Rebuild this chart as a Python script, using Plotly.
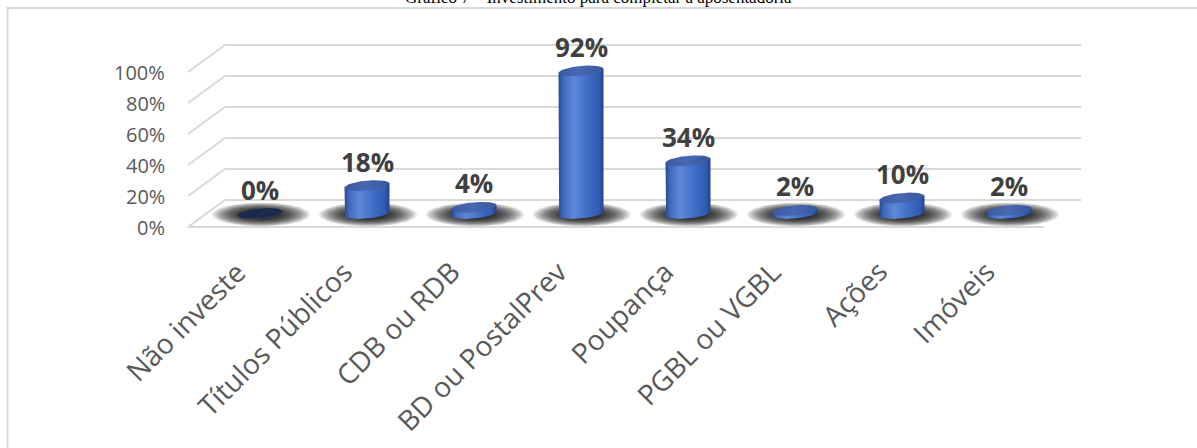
import numpy as np
import plotly.graph_objects as go

# ---------------- data ----------------
title_text = "Gráfico 7 – Investimento para completar a aposentadoria"
categories = ["Não investe", "Títulos Públicos", "CDB ou RDB", "BD ou PostalPrev",
              "Poupança", "PGBL ou VGBL", "Ações", "Imóveis"]
values = [0, 18, 4, 92, 34, 2, 10, 2]
y_ticks = [0, 20, 40, 60, 80, 100]
y_tick_labels = ["0%", "20%", "40%", "60%", "80%", "100%"]

# ---------------- geometry (pixel calibration of the pseudo-3D frame) ----------------
W, H = 1197, 448
X0PIX, XSTEP = 260.0, 107.0      # pixel of first category, pixels per category
Y0PIX, YSCALE = 213.5, 1.55      # pixel of value 0 (bar plane), pixels per percent


def lx(p):
    return p / XSTEP


def ly(p):
    return p / YSCALE


x_range = [(0 - X0PIX) / XSTEP, (W - X0PIX) / XSTEP]
y_range = [(Y0PIX - H) / YSCALE, Y0PIX / YSCALE]

A = lx(22.5)   # cylinder half width
B = ly(5.0)    # ellipse half height
T = ly(2.0)    # ellipse tilt
D = lx(18.5)   # depth offset x
DY = ly(13.5)  # depth offset y
n = len(categories)

GRID = "#D9D9D9"
fig = go.Figure()

# gridlines: back wall + left wall diagonals + floor front edge
gx, gy = [], []
for g in y_ticks:
    gx += [-0.5 + D, n - 0.5 + D, None, -0.5 - D, -0.5 + D, None]
    gy += [g + DY, g + DY, None, g - DY, g + DY, None]
gx += [-0.5 - D, n - 0.5 - D, None]
gy += [y_ticks[0] - DY, y_ticks[0] - DY, None]
fig.add_trace(go.Scatter(x=gx, y=gy, mode="lines", line=dict(color=GRID, width=2),
                         hoverinfo="skip"))

# soft shadows on the floor (stacked translucent ellipses)
th = np.linspace(0, 2 * np.pi, 72)
levels = 16
for k in range(levels):
    s = 1.0 - k * 0.042
    sx, sy = [], []
    for i in range(n):
        xc = i + lx(1)
        sx += list(xc + lx(49) * s * np.cos(th)) + [None]
        sy += list(-ly(1) + ly(12) * s * np.sin(th)) + [None]
    fig.add_trace(go.Scatter(x=sx, y=sy, mode="lines", fill="toself",
                             fillcolor="rgba(0,0,0,0.095)", line=dict(width=0),
                             hoverinfo="skip"))

# cylinders
body_scale = [[0, "#26488F"], [0.1, "#3F69BD"], [0.33, "#5E89DA"], [0.65, "#3F6DC6"],
              [0.9, "#2F5BB0"], [1, "#22438A"]]
top_scale = [[0, "#3A59A0"], [0.45, "#4868B0"], [1, "#3A579E"]]
tb = np.linspace(np.pi, 2 * np.pi, 40)
for i, v in enumerate(values):
    xc = i
    bx = [xc - A] + list(xc + A * np.cos(tb)) + [xc + A, xc - A]
    by = [v - T] + list(B * np.sin(tb) + T * np.cos(tb)) + [v + T, v - T]
    fig.add_trace(go.Scatter(x=bx, y=by, mode="lines", fill="toself", line=dict(width=0),
                             fillgradient=dict(type="horizontal", colorscale=body_scale),
                             hoverinfo="skip"))
    ex = list(xc + A * np.cos(th))
    ey = list(v + B * np.sin(th) + T * np.cos(th))
    if v == 0:
        fig.add_trace(go.Scatter(x=ex, y=ey, mode="lines", fill="toself",
                                 fillcolor="#1C2A4C", line=dict(width=0),
                                 hoverinfo="skip"))
    else:
        fig.add_trace(go.Scatter(x=ex, y=ey, mode="lines", fill="toself", line=dict(width=0),
                                 fillgradient=dict(type="horizontal", colorscale=top_scale),
                                 hoverinfo="skip"))

annotations = []
# data labels
for i, v in enumerate(values):
    annotations.append(dict(x=i, y=v, xref="x", yref="y", text=f"{v}%", showarrow=False,
                            yshift=24, xanchor="center", yanchor="middle",
                            font=dict(family="Open Sans", size=26, color="#404040",
                                      weight="bold")))
# category labels
for i, c in enumerate(categories):
    annotations.append(dict(x=i, y=(Y0PIX - 250) / YSCALE, xref="x", yref="y", text=c,
                            showarrow=False, textangle=-45, xanchor="right", yanchor="top",
                            xshift=-4,
                            font=dict(family="Open Sans", size=28, color="#595959")))
# value axis labels (front plane)
for g, lab in zip(y_ticks, y_tick_labels):
    annotations.append(dict(x=-0.5 - D, y=g - DY, xref="x", yref="y", text=lab,
                            showarrow=False, xanchor="right", yanchor="middle", xshift=-21,
                            font=dict(family="Open Sans", size=20, color="#595959")))
# title (cut off at the top of the image)
annotations.append(dict(x=0.5, y=1 - 9 / H, xref="paper", yref="paper", text=title_text,
                        showarrow=False, xanchor="center", yanchor="bottom",
                        font=dict(family="Liberation Serif", size=17, color="#000000")))

fig.update_layout(
    width=W, height=H, margin=dict(l=0, r=0, t=0, b=0),
    paper_bgcolor="white", plot_bgcolor="white",
    showlegend=False, hovermode=False,
    xaxis=dict(visible=False, range=x_range, fixedrange=True),
    yaxis=dict(visible=False, range=y_range, fixedrange=True),
    annotations=annotations,
    shapes=[dict(type="rect", xref="paper", yref="paper", x0=7.5 / W, y0=1 - 8 / H,
                 x1=1.01, y1=-0.01, line=dict(color=GRID, width=2), layer="below")],
)

fig.write_html("out.html")
